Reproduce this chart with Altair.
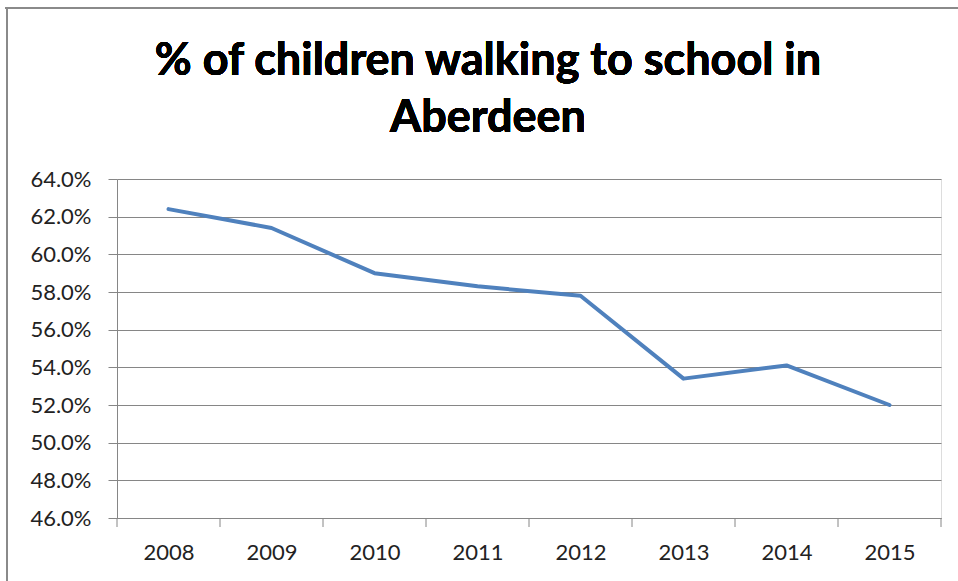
import altair as alt
import pandas as pd

years = [2008, 2009, 2010, 2011, 2012, 2013, 2014, 2015]
walk_share = [0.624, 0.614, 0.590, 0.583, 0.578, 0.534, 0.541, 0.520]
y_ticks = [0.46, 0.48, 0.50, 0.52, 0.54, 0.56, 0.58, 0.60, 0.62, 0.64]
band_edges = [2007.5, 2008.5, 2009.5, 2010.5, 2011.5, 2012.5, 2013.5, 2014.5, 2015.5]
title_lines = ["% of children walking to school in", "Aberdeen"]

df = pd.DataFrame({"year": years, "share": walk_share})
edges = pd.DataFrame({"edge": band_edges})

FONT = "Lato"
GRID = "#868686"
W, H = 824, 339

x_scale = alt.Scale(domain=[2007.5, 2015.5], nice=False, zero=False)
y_scale = alt.Scale(domain=[0.46, 0.64], nice=False, zero=False)

line = alt.Chart(df).mark_line(
    color="#4F81BD", strokeWidth=4, strokeJoin="round", strokeCap="round"
).encode(
    x=alt.X("year:Q", scale=x_scale, axis=alt.Axis(
        title=None, values=years, format="d", grid=False, ticks=False,
        domain=True, domainColor=GRID, labelFont=FONT, labelFontSize=22,
        labelColor="#222222", labelPadding=24, labelBaseline="top")),
    y=alt.Y("share:Q", scale=y_scale, axis=alt.Axis(
        title=None, values=y_ticks, format=".1%", grid=True, gridColor=GRID,
        gridOpacity=1, domainColor=GRID, tickColor=GRID, tickSize=9,
        labelFont=FONT, labelFontSize=22, labelColor="#222222",
        labelPadding=17)),
)

ticks = alt.Chart(edges).mark_rule(color=GRID, strokeWidth=1).encode(
    x=alt.X("edge:Q", scale=x_scale),
    y=alt.value(H),
    y2=alt.value(H + 9),
)

frame_top = alt.Chart(edges).mark_rule(color="#8a8a8a", strokeWidth=2).encode(
    x=alt.value(-112), x2=alt.value(958 - 117), y=alt.value(-171)
)
frame_left = alt.Chart(edges).mark_rule(color="#8a8a8a", strokeWidth=2).encode(
    x=alt.value(-110), y=alt.value(-171), y2=alt.value(581 - 179)
)

title_style = dict(font=FONT, fontSize=45, fontWeight="bold", color="#000000",
                   align="center", baseline="alphabetic")
title1 = alt.Chart(edges).mark_text(text=title_lines[0], **title_style).encode(
    x=alt.value(371), y=alt.value(-104)
)
title2 = alt.Chart(edges).mark_text(text=title_lines[1], **title_style).encode(
    x=alt.value(371), y=alt.value(-47)
)

chart = alt.layer(frame_top, frame_left, title1, title2, line, ticks).properties(
    width=W, height=H,
    autosize=alt.AutoSizeParams(type="none"),
    padding={"left": 117, "top": 179, "right": 17, "bottom": 63},
).configure_view(stroke=None).configure(background="white")

chart.save("out.html", embed_options={"renderer": "svg", "actions": False})
